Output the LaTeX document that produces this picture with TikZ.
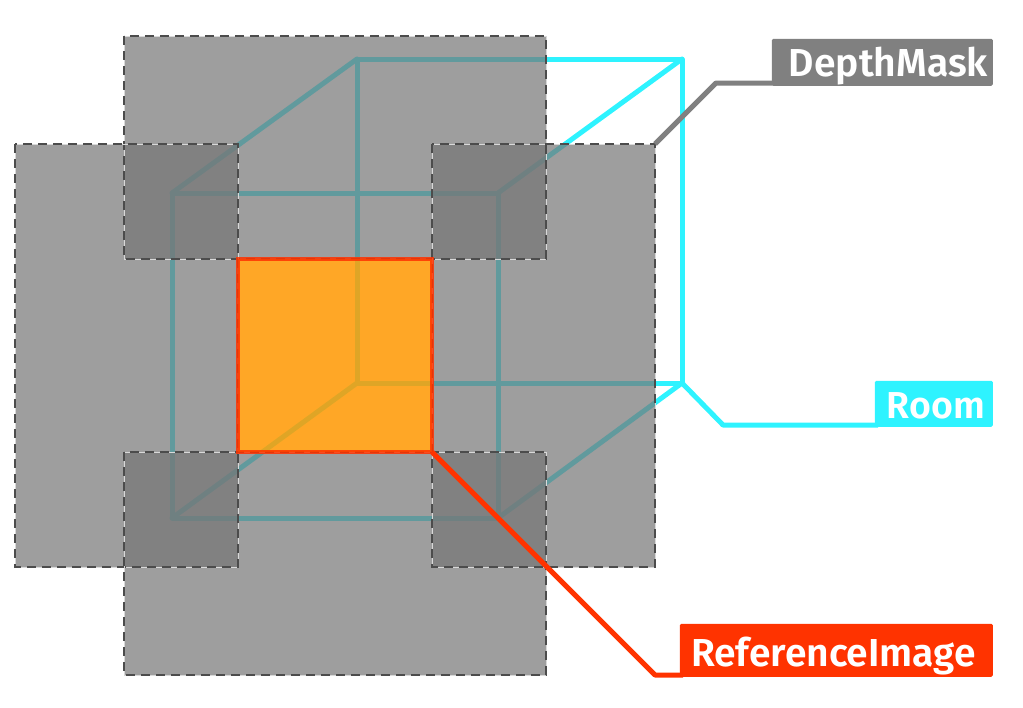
\documentclass[tikz,border=0pt]{standalone}
\usepackage{fontspec}
\setmainfont{Fira Sans}[BoldFont={Fira Sans SemiBold}]
\definecolor{roomc}{HTML}{2EF3FF}
\definecolor{refc}{HTML}{FF3300}
\definecolor{maskc}{HTML}{767676}
\definecolor{labgray}{HTML}{808080}
\definecolor{orangec}{HTML}{FF9800}
\tikzset{
  maskbox/.style={draw=none,fill=maskc,fill opacity=.71},
  maskedge/.style={draw=black!70,line width=1.1pt,dash pattern=on 9pt off 6pt},
  maskgap/.style={draw=white!85!black,line width=1pt},
  cubeline/.style={draw=roomc,line width=5pt,line join=round,line cap=round},
  leader/.style={line width=5pt,line join=round},
  tag/.style={rounded corners=1.5pt,inner sep=0pt,anchor=south east},
  tagtext/.style={text=white,font=\bfseries\fontsize{39}{39}\selectfont,anchor=base east,inner sep=0pt}
}
\begin{document}
\begin{tikzpicture}[x=1pt,y=-1pt]
\useasboundingbox (0,0) rectangle (1023,707);
% cube corners
\coordinate (f1) at (172,193); \coordinate (f2) at (498,193);
\coordinate (f3) at (498,518); \coordinate (f4) at (172,518);
\coordinate (b1) at (357,59);  \coordinate (b2) at (682,59);
\coordinate (b3) at (682,383); \coordinate (b4) at (357,383);
\draw[cubeline] (f1)--(f2)--(f3)--(f4)--cycle;
\draw[cubeline] (b1)--(b2)--(b3)--(b4)--cycle;
\draw[cubeline] (f1)--(b1) (f2)--(b2) (f3)--(b3) (f4)--(b4);
% depth mask rectangles
\path[maskbox] (124,36) rectangle (546,259);
\path[maskbox] (15,144) rectangle (238,567);
\path[maskbox] (432,144) rectangle (655,567);
\path[maskbox] (124,452) rectangle (546,675);
\foreach \x/\y/\u/\v in {124/36/546/259,15/144/238/567,432/144/655/567,124/452/546/675}{
  \draw[maskgap] (\x,\y) rectangle (\u,\v);
  \draw[maskedge] (\x,\y) rectangle (\u,\v);
}
% reference image
\coordinate (r1) at (238,259); \coordinate (r3) at (432,452);
\fill[orangec,fill opacity=.85] (r1) rectangle (r3);
\draw[refc,line width=4.5pt,draw opacity=.85] (r1) rectangle (r3);
% labels
\node[tag,fill=labgray,minimum width=221pt,minimum height=47pt] (dm) at (993,86) {};
\node[tagtext] (dmt) at (988,76) {DepthMask};
\node[tag,fill=roomc,minimum width=118pt,minimum height=46pt] (rm) at (993,427) {};
\node[tagtext,font=\bfseries\fontsize{37.5}{38}\selectfont] (rmt) at (985,418) {Room};
\node[tag,fill=refc,minimum width=313pt,minimum height=53pt] (ri) at (993,677) {};
\node[tagtext] (rit) at (976,666) {ReferenceImage};
% leaders
\coordinate (d0) at (655,144); \coordinate (d1) at (716,83); \coordinate (d2) at (775,83);
\coordinate (e0) at (682,383); \coordinate (e1) at (723,425); \coordinate (e2) at (878,425);
\coordinate (g1) at (655,675); \coordinate (g2) at (683,675);
\draw[leader,draw=labgray] (d0)--(d1)--(d2);
\draw[leader,draw=roomc] (e0)--(e1)--(e2);
\draw[leader,draw=refc] (r3)--(g1)--(g2);
\end{tikzpicture}
\end{document}
